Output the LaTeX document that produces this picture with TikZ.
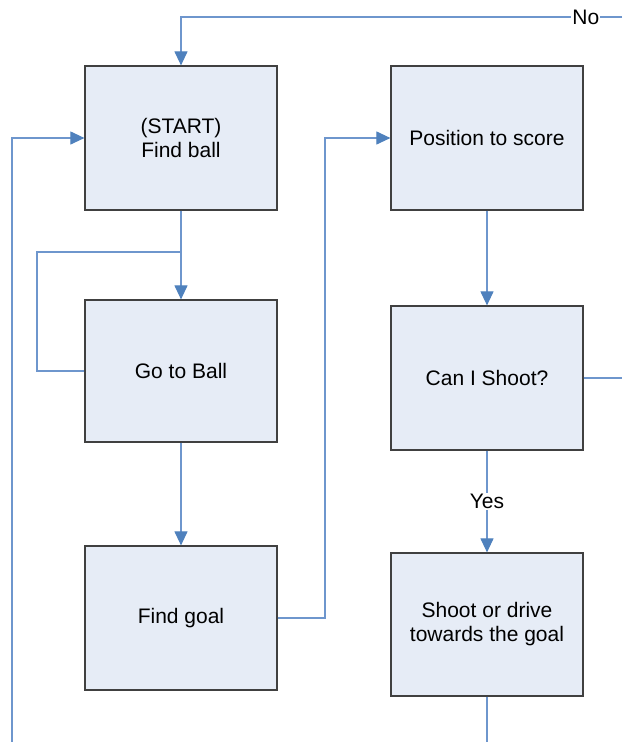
\documentclass[tikz,border=0pt]{standalone}
\usepackage{fontspec}
\setmainfont{Liberation Sans}
\usetikzlibrary{arrows.meta,positioning}
\definecolor{boxfill}{RGB}{230,236,246}
\definecolor{boxline}{RGB}{64,64,64}
\definecolor{conn}{RGB}{79,129,189}
\definecolor{connline}{RGB}{110,150,205}
\tikzset{
  stepbox/.style={draw=boxline,line width=1.2pt,fill=boxfill,minimum width=192pt,minimum height=144pt,align=center,font=\fontsize{21}{24}\selectfont,inner sep=0pt},
  conline/.style={draw=connline,line width=1.1pt},
  conarrow/.style={conline,-{Triangle[length=14pt,width=13pt,color=conn]}},
  lbl/.style={fill=white,font=\fontsize{21}{24}\selectfont,inner sep=1pt}
}
\begin{document}
\begin{tikzpicture}[x=1pt,y=-1pt]
\useasboundingbox (0,0) rectangle (622,742);
\node[stepbox] (findball) at (181,138) {(START)\\Find ball};
\node[stepbox,minimum height=142pt] (goball) at (181,371) {Go to Ball};
\node[stepbox] (findgoal) at (181,618) {Find goal};
\node[stepbox] (position) at (487,138) {Position to score};
\node[stepbox] (canshoot) at (487,378) {Can I Shoot?};
\node[stepbox,minimum height=143pt] (shoot) at (487,624.5) {Shoot or drive\\towards the goal};
\coordinate (noend) at (622,17);
\coordinate (nocorner) at (181,17);
\coordinate (shootright) at (622,378);
\coordinate (leftbottom) at (12,742);
\coordinate (loopcorner) at (37,252);
\coordinate (loopjoin) at (181,252);
\coordinate (goalcorner) at (325,618);
\coordinate (shootbottom) at (487,742);
% No loop
\draw[conarrow] (noend) -- node[lbl,pos=0.082] {No} (nocorner) -- (findball.north);
\draw[conline] (canshoot.east) -- (shootright);
% left return line
\draw[conarrow] (leftbottom) |- (findball.west);
\draw[conarrow] (findball.south) -- (goball.north);
\draw[conline] (goball.west) -| (loopcorner) -- (loopjoin);
\draw[conarrow] (goball.south) -- (findgoal.north);
\draw[conarrow] (findgoal.east) -- (goalcorner) |- (position.west);
\draw[conarrow] (position.south) -- (canshoot.north);
\draw[conarrow] (canshoot.south) -- node[lbl] {Yes} (shoot.north);
\draw[conline] (shoot.south) -- (shootbottom);
\end{tikzpicture}
\end{document}
